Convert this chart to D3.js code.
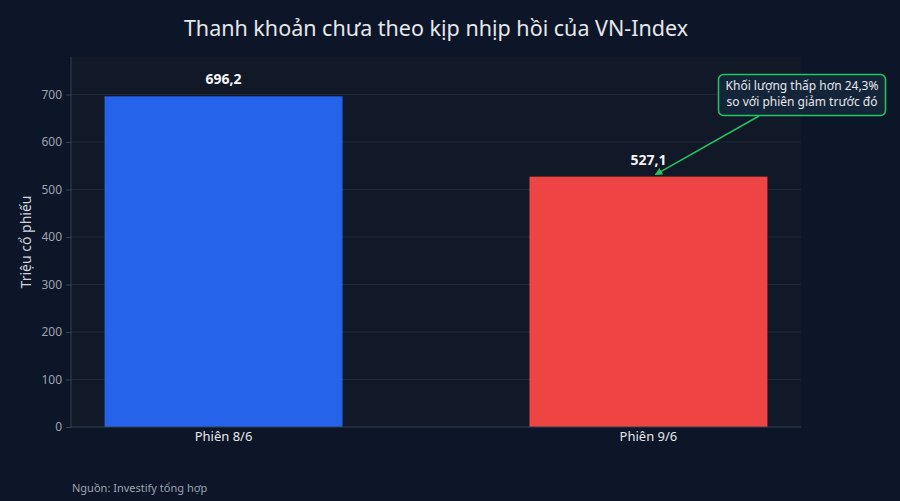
<!DOCTYPE html>
<html>
<head>
<meta charset="utf-8">
<script src="https://cdn.jsdelivr.net/npm/d3@7"></script>
<style>
  body { margin: 0; background: #0c1628; }
  text { font-family: "Noto Sans", "Open Sans", sans-serif; }
</style>
</head>
<body>
<script>
var categories = ["Phiên 8/6", "Phiên 9/6"];
var volumes = [696.2, 527.1];
var valueLabels = ["696,2", "527,1"];
var barColors = ["#2563eb", "#ef4444"];
var yTicks = [0, 100, 200, 300, 400, 500, 600, 700];
var noteLines = ["Khối lượng thấp hơn 24,3%", "so với phiên giảm trước đó"];

var W = 900, H = 501;
var m = {left: 71, right: 99, top: 57, bottom: 74};
var pw = W - m.left - m.right, ph = H - m.top - m.bottom;

var svg = d3.select("body").append("svg")
    .attr("width", W)
    .attr("height", H);

svg.append("rect").attr("width", W).attr("height", H).attr("fill", "#0c1628");

var g = svg.append("g").attr("transform", "translate(" + m.left + "," + m.top + ")");
g.append("rect").attr("width", pw).attr("height", ph).attr("fill", "#111827");

var x = d3.scaleBand().domain(categories).range([0, pw])
    .paddingInner(0.44).paddingOuter(0.079);
var y = d3.scaleLinear().domain([0, 779]).range([ph, 0]);

// grid
g.selectAll("line.grid")
    .data(yTicks.filter(function(d) { return d > 0; }))
    .enter().append("line")
    .attr("class", "grid")
    .attr("x1", 0).attr("x2", pw)
    .attr("y1", function(d) { return y(d); })
    .attr("y2", function(d) { return y(d); })
    .attr("stroke", "#1f2a3a").attr("stroke-width", 1);

// bars
g.selectAll("rect.bar")
    .data(volumes)
    .enter().append("rect")
    .attr("class", "bar")
    .attr("x", function(d, i) { return x(categories[i]); })
    .attr("width", x.bandwidth())
    .attr("y", function(d) { return y(d); })
    .attr("height", function(d) { return ph - y(d); })
    .attr("fill", function(d, i) { return barColors[i]; });

g.selectAll("text.val")
    .data(volumes)
    .enter().append("text")
    .attr("class", "val")
    .attr("x", function(d, i) { return x(categories[i]) + x.bandwidth() / 2; })
    .attr("y", function(d) { return y(d) - 12; })
    .attr("text-anchor", "middle")
    .attr("fill", "#f3f4f6")
    .attr("font-size", 14)
    .attr("font-weight", "bold")
    .text(function(d, i) { return valueLabels[i]; });

// axes
var yAxis = g.append("g")
    .call(d3.axisLeft(y).tickValues(yTicks).tickSize(5).tickPadding(4));
yAxis.select(".domain").attr("stroke", "#374151").attr("d", "M0," + ph + "V0");
yAxis.selectAll(".tick line").attr("stroke", "#374151");
yAxis.selectAll(".tick text").attr("fill", "#9ca3af").attr("font-size", 12)
    .style("font-family", "Noto Sans");

var xAxis = g.append("g").attr("transform", "translate(0," + ph + ")")
    .call(d3.axisBottom(x).tickSize(0).tickPadding(5));
xAxis.select(".domain").attr("stroke", "#374151").attr("d", "M0,0H" + pw);
xAxis.selectAll(".tick text").attr("fill", "#e5e7eb").attr("font-size", 13)
    .style("font-family", "Noto Sans");

// titles
svg.append("text")
    .attr("x", 436).attr("y", 36)
    .attr("text-anchor", "middle")
    .attr("fill", "#e5e7eb")
    .attr("font-size", 21.5)
    .text("Thanh khoản chưa theo kịp nhịp hồi của VN-Index");

svg.append("text")
    .attr("transform", "translate(31," + (m.top + ph / 2) + ") rotate(-90)")
    .attr("text-anchor", "middle")
    .attr("fill", "#d1d5db")
    .attr("font-size", 14)
    .text("Triệu cổ phiếu");

svg.append("text")
    .attr("x", 72).attr("y", 492)
    .attr("fill", "#9ca3af")
    .attr("font-size", 11)
    .text("Nguồn: Investify tổng hợp");

// annotation
var tipX = m.left + x(categories[1]) + x.bandwidth() / 2 + 7;
var tipY = m.top + y(volumes[1]) - 2;

svg.append("defs").append("marker")
    .attr("id", "arr")
    .attr("viewBox", "0 0 10 10")
    .attr("refX", 9).attr("refY", 5)
    .attr("markerWidth", 5).attr("markerHeight", 5)
    .attr("orient", "auto")
    .append("path").attr("d", "M0,0L10,5L0,10z").attr("fill", "#22c55e");

svg.append("line")
    .attr("x1", 759).attr("y1", 116)
    .attr("x2", tipX).attr("y2", tipY)
    .attr("stroke", "#22c55e").attr("stroke-width", 1.5)
    .attr("marker-end", "url(#arr)");

svg.append("rect")
    .attr("x", 718.5).attr("y", 74.5)
    .attr("width", 167).attr("height", 41)
    .attr("rx", 5)
    .attr("fill", "#14253a")
    .attr("stroke", "#22c55e").attr("stroke-width", 1.5);

svg.append("g").selectAll("text")
    .data(noteLines)
    .enter().append("text")
    .attr("x", 802)
    .attr("y", function(d, i) { return 90 + i * 16; })
    .attr("text-anchor", "middle")
    .attr("fill", "#e5e7eb")
    .attr("font-size", 12)
    .text(function(d) { return d; });
</script>
</body>
</html>
